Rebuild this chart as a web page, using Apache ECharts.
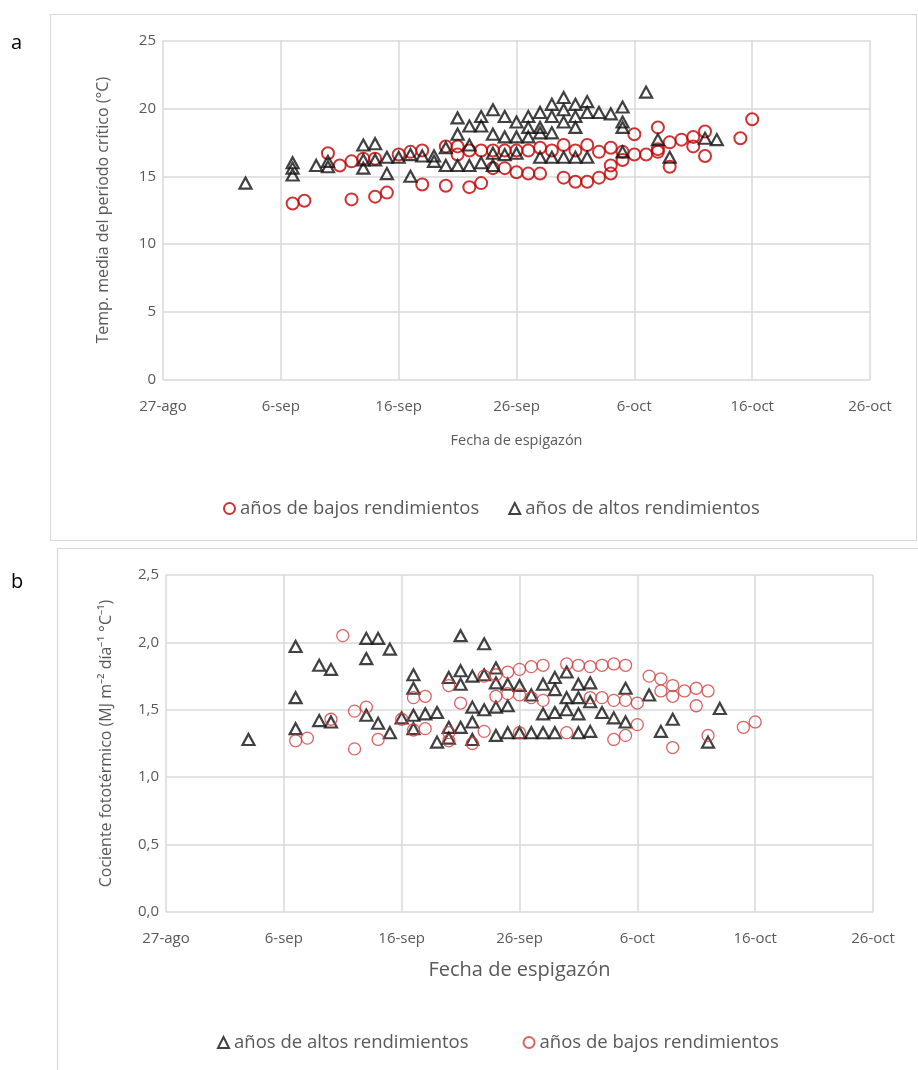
<!DOCTYPE html>
<html>
<head>
<meta charset="utf-8">
<script src="https://cdn.jsdelivr.net/npm/echarts@6/dist/echarts.min.js"></script>
<style>
  html, body { margin: 0; padding: 0; background: #ffffff; overflow: hidden; }
  #chart { width: 918px; height: 1070px; }
</style>
</head>
<body>
<div id="chart"></div>
<script>
// Heading date expressed as days after 27 August; tick labels every 10 days
const dateTicks = ['27-ago', '6-sep', '16-sep', '26-sep', '6-oct', '16-oct', '26-oct'];
const tempTicks = [0, 5, 10, 15, 20, 25];
const ratioTicks = ['0,0', '0,5', '1,0', '1,5', '2,0', '2,5'];

const nameLow = 'años de bajos rendimientos';
const nameHigh = 'años de altos rendimientos';

// Panel a: mean temperature of the critical period (°C) vs heading date
const tempLow = [
  [11, 13.0], [12, 13.2], [14, 16.7], [15, 15.8], [16, 16.1], [16, 13.3], [17, 16.3],
  [18, 13.5], [18, 16.3], [19, 13.8], [20, 16.6], [21, 16.8], [22, 14.4], [22, 16.9],
  [24, 17.2], [24, 14.3], [25, 17.2], [25, 16.6], [26, 14.2], [26, 16.9], [27, 14.5],
  [27, 16.9], [28, 16.9], [28, 15.6], [29, 16.9], [29, 15.6], [30, 15.3], [30, 16.9],
  [31, 16.9], [31, 15.2], [32, 17.1], [32, 15.2], [33, 16.9], [34, 17.3], [34, 14.9],
  [35, 14.6], [35, 16.9], [36, 14.6], [36, 17.3], [37, 14.9], [37, 16.8], [38, 15.2],
  [38, 15.8], [38, 17.1], [39, 16.2], [39, 16.8], [40, 18.1], [40, 16.6], [41, 16.6],
  [42, 18.6], [42, 17.0], [42, 16.8], [43, 17.5], [43, 15.7], [44, 17.7], [45, 17.9],
  [45, 17.2], [46, 18.3], [46, 16.5], [49, 17.8], [50, 19.2]
];
const tempHigh = [
  [7, 14.5], [11, 16.0], [11, 15.6], [11, 15.1], [13, 15.8], [14, 16.1], [14, 15.7],
  [17, 17.3], [17, 16.2], [17, 15.6], [18, 17.4], [18, 16.2], [19, 16.4], [19, 15.2],
  [20, 16.4], [21, 16.6], [21, 15.0], [22, 16.5], [23, 16.5], [23, 16.1], [24, 17.1],
  [24, 15.8], [25, 19.3], [25, 18.1], [25, 15.8], [26, 18.7], [26, 17.3], [26, 15.8],
  [27, 19.4], [27, 18.7], [27, 16.0], [28, 19.9], [28, 18.1], [28, 16.7], [28, 15.8],
  [29, 19.4], [29, 17.9], [29, 16.6], [30, 19.0], [30, 17.9], [30, 16.7], [31, 19.4],
  [31, 18.6], [31, 17.9], [32, 19.7], [32, 18.6], [32, 18.2], [32, 16.4], [33, 20.3],
  [33, 19.4], [33, 18.2], [33, 16.4], [34, 20.8], [34, 19.9], [34, 19.0], [34, 16.4],
  [35, 20.3], [35, 19.4], [35, 18.6], [35, 16.4], [36, 20.5], [36, 19.7], [36, 16.4],
  [37, 19.7], [38, 19.6], [39, 20.1], [39, 19.0], [39, 18.6], [39, 16.8], [41, 21.2],
  [42, 17.7], [43, 16.4], [46, 17.8], [47, 17.7]
];

// Panel b: photothermal quotient (MJ m-2 día-1 °C-1) vs heading date
const ratioHigh = [
  [7, 1.28], [11, 1.97], [11, 1.59], [11, 1.36], [13, 1.83], [14, 1.80], [13, 1.42],
  [14, 1.41], [17, 2.03], [18, 2.03], [19, 1.95], [17, 1.88], [17, 1.46], [18, 1.40],
  [19, 1.33], [21, 1.76], [21, 1.66], [20, 1.44], [21, 1.46], [22, 1.47], [23, 1.48],
  [21, 1.36], [23, 1.26], [24, 1.74], [25, 2.05], [24, 1.37], [24, 1.29], [25, 1.79],
  [25, 1.69], [25, 1.37], [26, 1.75], [26, 1.52], [26, 1.41], [26, 1.28], [27, 1.99],
  [27, 1.76], [27, 1.50], [28, 1.81], [28, 1.70], [28, 1.52], [28, 1.31], [29, 1.69],
  [29, 1.53], [29, 1.33], [30, 1.68], [30, 1.33], [31, 1.61], [31, 1.33], [32, 1.69],
  [32, 1.47], [32, 1.33], [33, 1.74], [33, 1.65], [33, 1.48], [33, 1.33], [34, 1.78],
  [34, 1.59], [34, 1.50], [35, 1.69], [35, 1.59], [35, 1.47], [35, 1.33], [36, 1.70],
  [36, 1.56], [36, 1.34], [37, 1.48], [38, 1.44], [39, 1.66], [39, 1.41], [41, 1.61],
  [42, 1.34], [43, 1.43], [46, 1.26], [47, 1.51]
];
const ratioLow = [
  [15, 2.05], [11, 1.27], [12, 1.29], [16, 1.21], [16, 1.49], [17, 1.52], [14, 1.43],
  [18, 1.28], [20, 1.43], [21, 1.59], [21, 1.35], [22, 1.60], [22, 1.36], [24, 1.68],
  [24, 1.27], [24, 1.33], [25, 1.55], [26, 1.25], [27, 1.75], [27, 1.34], [28, 1.76],
  [28, 1.60], [29, 1.78], [29, 1.62], [30, 1.80], [30, 1.61], [30, 1.33], [31, 1.82],
  [31, 1.59], [32, 1.83], [32, 1.57], [34, 1.84], [34, 1.33], [35, 1.83], [36, 1.82],
  [36, 1.59], [37, 1.83], [37, 1.59], [38, 1.84], [38, 1.57], [38, 1.28], [39, 1.83],
  [39, 1.57], [39, 1.31], [40, 1.55], [40, 1.39], [41, 1.75], [42, 1.73], [42, 1.64],
  [43, 1.68], [43, 1.60], [43, 1.22], [44, 1.64], [45, 1.66], [45, 1.53], [46, 1.64],
  [46, 1.31], [49, 1.37], [50, 1.41]
];

const font = 'Open Sans';
const txt = '#595959';
const gridLine = '#d9d9d9';

function xAxisFor(gridIndex, titleSize, gap) {
  return {
    type: 'value', gridIndex, min: 0, max: 60, interval: 10,
    name: 'Fecha de espigazón', nameLocation: 'middle', nameGap: gap,
    nameTextStyle: { color: txt, fontFamily: font, fontSize: titleSize },
    axisLine: { show: false }, axisTick: { show: false },
    axisLabel: { color: txt, fontFamily: font, fontSize: 15, margin: 19,
      formatter: v => dateTicks[Math.round(v / 10)] },
    splitLine: { show: true, lineStyle: { color: gridLine, width: 1.5 } }
  };
}

const chart = echarts.init(document.getElementById('chart'), null, { renderer: 'canvas' });
chart.setOption({
  animation: false,
  backgroundColor: '#ffffff',
  graphic: [
    { type: 'rect', shape: { x: 50.5, y: 14.5, width: 866, height: 526 },
      style: { fill: 'none', stroke: '#d9d9d9', lineWidth: 1.2 }, silent: true },
    { type: 'rect', shape: { x: 57.5, y: 548.5, width: 900, height: 560 },
      style: { fill: 'none', stroke: '#d9d9d9', lineWidth: 1.2 }, silent: true },
    { type: 'text', left: 11, top: 33,
      style: { text: 'a', fontFamily: font, fontSize: 20, fill: '#000000' } },
    { type: 'text', left: 11, top: 572,
      style: { text: 'b', fontFamily: font, fontSize: 20, fill: '#000000' } }
  ],
  grid: [
    { left: 163, top: 40.5, width: 707, height: 339.5 },
    { left: 166, top: 575, width: 707, height: 337 }
  ],
  xAxis: [xAxisFor(0, 14.5, 53), xAxisFor(1, 20, 48)],
  yAxis: [
    { type: 'value', gridIndex: 0, min: 0, max: 25, interval: 5,
      name: 'Temp. media del período crítico (°C)', nameLocation: 'middle', nameGap: 52,
      nameTextStyle: { color: txt, fontFamily: font, fontSize: 16 },
      axisLine: { show: false }, axisTick: { show: false },
      axisLabel: { color: txt, fontFamily: font, fontSize: 15, margin: 7,
        formatter: v => String(tempTicks[Math.round(v / 5)]) },
      splitLine: { show: true, lineStyle: { color: gridLine, width: 1.5 } } },
    { type: 'value', gridIndex: 1, min: 0, max: 2.5, interval: 0.5,
      name: 'Cociente fototérmico (MJ m⁻² día⁻¹ °C⁻¹)', nameLocation: 'middle', nameGap: 52,
      nameTextStyle: { color: txt, fontFamily: font, fontSize: 16 },
      axisLine: { show: false }, axisTick: { show: false },
      axisLabel: { color: txt, fontFamily: font, fontSize: 15, margin: 7,
        formatter: v => ratioTicks[Math.round(v / 0.5)] },
      splitLine: { show: true, lineStyle: { color: gridLine, width: 1.5 } } }
  ],
  legend: [
    { data: ['aLow', 'aHigh'], left: 218, top: 494, itemGap: 29,
      itemWidth: 11, itemHeight: 11,
      formatter: n => (n === 'aLow' ? nameLow : nameHigh),
      textStyle: { color: txt, fontFamily: font, fontSize: 18.5 } },
    { data: ['bHigh', 'bLow'], left: 212, top: 1028, itemGap: 54,
      itemWidth: 11, itemHeight: 11,
      formatter: n => (n === 'bLow' ? nameLow : nameHigh),
      textStyle: { color: txt, fontFamily: font, fontSize: 18.5 } }
  ],
  series: [
    { name: 'aLow', type: 'scatter', xAxisIndex: 0, yAxisIndex: 0, data: tempLow,
      symbol: 'circle', symbolSize: 12,
      itemStyle: { color: 'rgba(255,255,255,0)', borderColor: '#c00000', borderWidth: 2 } },
    { name: 'aHigh', type: 'scatter', xAxisIndex: 0, yAxisIndex: 0, data: tempHigh,
      symbol: 'triangle', symbolSize: [12, 11],
      itemStyle: { color: 'rgba(255,255,255,0)', borderColor: '#111111', borderWidth: 2.2 } },
    { name: 'bHigh', type: 'scatter', xAxisIndex: 1, yAxisIndex: 1, data: ratioHigh,
      symbol: 'triangle', symbolSize: [12, 11],
      itemStyle: { color: 'rgba(255,255,255,0)', borderColor: '#111111', borderWidth: 2.2 } },
    { name: 'bLow', type: 'scatter', xAxisIndex: 1, yAxisIndex: 1, data: ratioLow,
      symbol: 'circle', symbolSize: 12,
      itemStyle: { color: 'rgba(255,255,255,0)', borderColor: '#d23c3c', borderWidth: 1.3 } }
  ]
});
</script>
</body>
</html>
